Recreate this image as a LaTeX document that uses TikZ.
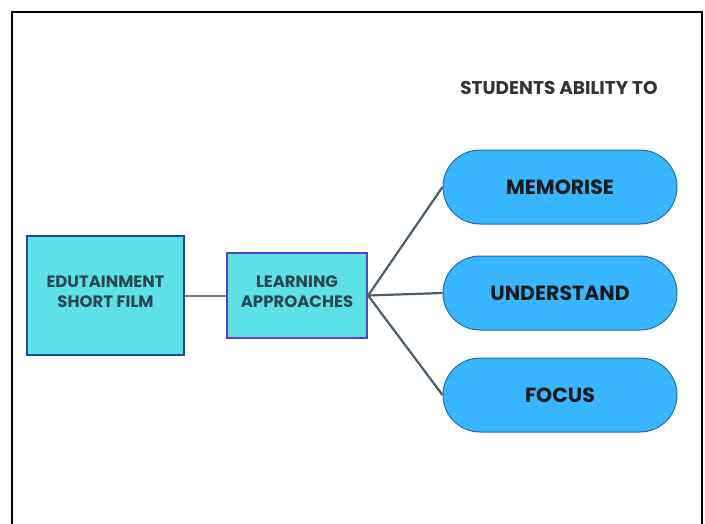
\documentclass[tikz,border=0pt]{standalone}
\usepackage{fontspec}
\setmainfont{Poppins}
\usetikzlibrary{positioning}
\definecolor{boxfill}{HTML}{5CE1E6}
\definecolor{pillfill}{HTML}{38B6FF}
\definecolor{pilledge}{HTML}{1F6FA8}
\definecolor{filmedge}{HTML}{1A4C9E}
\definecolor{learnedge}{HTML}{5B3FC4}
\definecolor{boxtext}{HTML}{2D4452}
\definecolor{linkcol}{HTML}{4B5E6C}
\begin{document}
\begin{tikzpicture}[x=1pt,y=-1pt,
  mainbox/.style={draw,fill=boxfill,text=boxtext,font=\bfseries\fontsize{16.5}{20}\selectfont,align=center,inner sep=0pt},
  ability/.style={draw=pilledge,line width=1pt,fill=pillfill,rounded corners=37pt,minimum width=234pt,minimum height=74pt,font=\bfseries\fontsize{20.5}{24}\selectfont,text=black!90},
  link/.style={draw=linkcol,line width=2.2pt}]
\useasboundingbox (0,0) rectangle (705,523);
% outer frame, open at the bottom
\draw[line width=2.2pt] (12,530) -- (12,12) -- (702,12) -- (702,530);
\node[font=\bfseries\fontsize{18.5}{22}\selectfont,text=black!80] (title) at (559,88) {STUDENTS ABILITY TO};
\node[mainbox,draw=filmedge,line width=2.6pt,minimum width=157pt,minimum height=119pt] (film) at (105.5,295.5) {EDUTAINMENT\\SHORT FILM\\[-13pt]};
\node[mainbox,draw=learnedge,line width=2.2pt,minimum width=140pt,minimum height=85pt] (learn) at (297,295.5) {LEARNING\\APPROACHES\\[-13pt]};
\node[ability] (mem) at (560,187) {MEMORISE};
\node[ability] (und) at (560,293) {UNDERSTAND};
\node[ability] (foc) at (560,395) {FOCUS};
\draw[draw=linkcol!80,line width=2pt] (film) -- (learn);
\draw[link] (learn.east) -- (mem.west);
\draw[link] (learn.east) -- (und.west);
\draw[link] (learn.east) -- (foc.west);
\end{tikzpicture}
\end{document}
